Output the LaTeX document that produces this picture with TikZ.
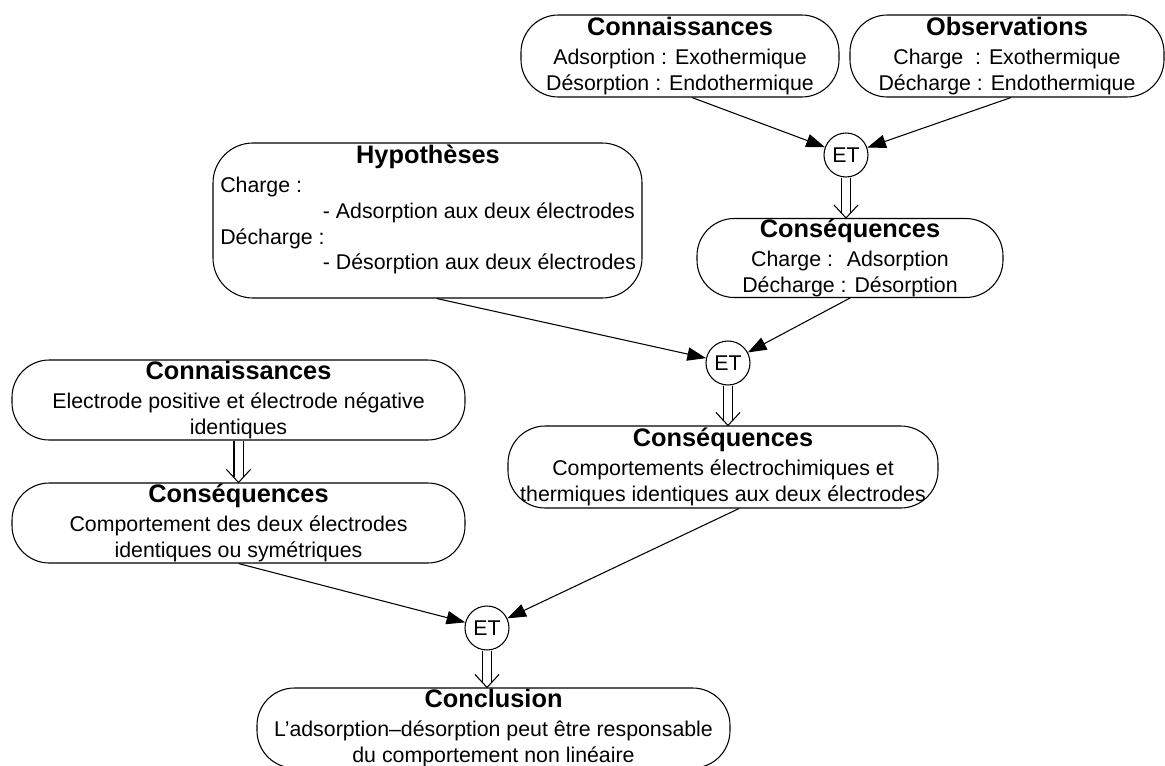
\documentclass[tikz,border=0pt]{standalone}
\usepackage{fontspec}
\setmainfont{Liberation Sans}
\usetikzlibrary{arrows.meta,backgrounds}
\newcommand{\mybody}{\fontsize{16}{19.5}\selectfont}
\newcommand{\mytitle}[1]{{\fontsize{19}{22}\selectfont\bfseries #1}}
% double (implication) arrow: lines from #1 to #2, open V head at #2
\newcommand{\dblarrow}[2]{%
  \draw[dbl] (#1) -- ([shift={(0,-5)}]#2);
  \draw[line width=0.8pt] ([shift={(-12,-13)}]#2) -- (#2) -- ([shift={(12,-13)}]#2);}
\begin{document}
\begin{tikzpicture}[x=0.75pt,y=-0.75pt,
  box/.style={draw=black, line width=0.8pt, rounded corners=28pt, inner sep=0pt, align=center, font=\mybody},
  etnode/.style={draw=black, circle, line width=0.8pt, minimum size=33pt, inner sep=0pt, font=\mybody},
  conn/.style={line width=0.8pt, -{Triangle[length=14pt,width=10pt]}},
  dbl/.style={double=white, double distance=6pt, line width=0.8pt},
]
\useasboundingbox (0,0) rectangle (1165,765);
\clip (0,0) rectangle (1165,765);

% top row
\node[box, minimum width=238.5pt, minimum height=61.5pt] (c1) at (680,56)
  {\mytitle{Connaissances}\\[2.25pt] Adsorption : Exothermique\\ Désorption : Endothermique};
\node[box, minimum width=235.5pt, minimum height=61.5pt] (obs) at (1007,56)
  {\mytitle{Observations}\\[2.25pt] Charge~ : Exothermique\\ Décharge : Endothermique};
\node[etnode] (et1) at (846,155) {ET};
\node[box, minimum width=229.5pt, minimum height=59.25pt] (cq1) at (850,258)
  {\mytitle{Conséquences}\\[2.25pt] Charge :~ Adsorption\\ Décharge : Désorption};

% hypotheses
\node[box, rounded corners=30pt, minimum width=321.75pt, minimum height=116.25pt] (hyp) at (427.5,220.5) {};
\node[font=\mybody, inner sep=0pt] (hyptitle) at (428,157) {\mytitle{Hypothèses}};
\node[anchor=north west, inner sep=0pt, align=left, font=\fontsize{16}{19.25}\selectfont] (hyptext) at (220,177)
  {Charge :\\ \hspace*{77pt}- Adsorption aux deux électrodes\\ Décharge :\\ \hspace*{77pt}- Désorption aux deux électrodes};

\node[etnode] (et2) at (728,363) {ET};
\node[box, minimum width=322.5pt, minimum height=61.5pt] (cq2) at (723,467)
  {\mytitle{Conséquences}\\[2.25pt] Comportements électrochimiques et\\ thermiques identiques aux deux électrodes};

% left column
\node[box, minimum width=339.75pt, minimum height=60pt] (c2) at (238.5,400)
  {\mytitle{Connaissances}\\[2.25pt] Electrode positive et électrode négative\\ identiques};
\node[box, minimum width=339.75pt, minimum height=60pt] (cq3) at (238.5,523)
  {\mytitle{Conséquences}\\[2.25pt] Comportement des deux électrodes\\ identiques ou symétriques};

\node[etnode] (et3) at (487,628) {ET};
\node[box, minimum width=354.75pt, minimum height=60pt] (concl) at (493.5,728)
  {\mytitle{Conclusion}\\[2.25pt] L’adsorption–désorption peut être responsable\\ du comportement non linéaire};

\coordinate (t1) at (et1.south |- cq1.north);
\coordinate (t2) at (et2.south |- cq2.north);
\coordinate (t3) at (c2.south |- cq3.north);
\coordinate (t4) at (et3.south |- concl.north);

% connectors
\begin{scope}[on background layer]
\draw[conn] ([xshift=9pt]c1.south) -- (et1);
\draw[conn] ([xshift=3pt]obs.south) -- (et1);
\dblarrow{et1.south}{t1}
\draw[conn] ([xshift=7pt]hyp.south) -- (et2);
\draw[conn] (cq1.south) -- (et2);
\dblarrow{et2.south}{t2}
\dblarrow{c2.south}{t3}
\draw[conn] (cq3.south) -- (et3);
\draw[conn] ([xshift=12pt]cq2.south) -- (et3);
\dblarrow{et3.south}{t4}
\end{scope}
\end{tikzpicture}
\end{document}
